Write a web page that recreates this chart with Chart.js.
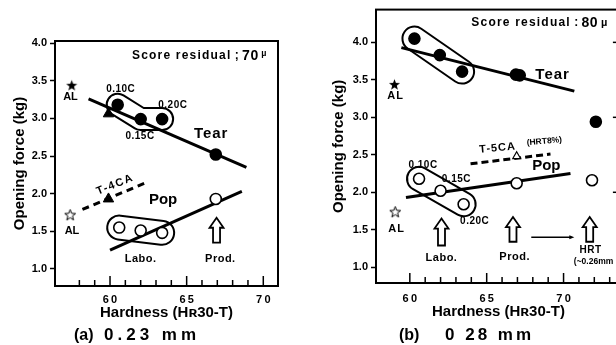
<!DOCTYPE html>
<html>
<head>
<meta charset="utf-8">
<script src="https://cdn.jsdelivr.net/npm/chart.js@4.4.0/dist/chart.umd.min.js"></script>
<style>
  html, body { margin: 0; padding: 0; background: #fff; overflow: hidden; width: 616px; height: 345px; position: relative; }
  .panel { position: absolute; top: 0; height: 345px; }
  #wrapA { left: 0; width: 300px; }
  #wrapB { left: 300px; width: 328px; }
  .cap { position: absolute; top: 325px; font: bold 17px "Liberation Sans", Arial, sans-serif; line-height: 20px; white-space: pre; color: #000; }
</style>
</head>
<body>
<div class="panel" id="wrapA"><canvas id="chartA" width="300" height="345"></canvas></div>
<div class="panel" id="wrapB"><canvas id="chartB" width="328" height="345"></canvas></div>
<div class="cap" style="left:74px; font-size:16px;">(a)</div>
<div class="cap" style="left:104px; letter-spacing:4px;">0.23 mm</div>
<div class="cap" style="left:399px; font-size:16px;">(b)</div>
<div class="cap" style="left:445px; letter-spacing:3px;">0 28 mm</div>
<script>
// ---- data ----
var yTicks = [1.0, 1.5, 2.0, 2.5, 3.0, 3.5, 4.0];
var xTicks = [60, 65, 70];

// (a) 0.23 mm
var hardTearA = [60.5, 62.0, 63.4, 66.9];
var forceTearA = [3.18, 2.99, 2.99, 2.52];
var hardPopA = [60.6, 62.0, 63.4, 66.9];
var forcePopA = [1.55, 1.51, 1.48, 1.93];
var tearLineXA = [58.6, 68.9];
var tearLineYA = [3.26, 2.35];
var popLineXA = [60.0, 68.6];
var popLineYA = [1.25, 2.03];
var t4caLineX = [58.2, 62.5];
var t4caLineY = [1.79, 2.16];
var t4caX = [59.9, 59.9];
var t4caY = [1.93, 3.06];
var alXA = [57.5, 57.4];
var alYA = [3.44, 1.72];

// (b) 0.28 mm
var hardTearB = [60.3, 61.95, 63.4, 66.9, 67.15, 72.1];
var forceTearB = [4.05, 3.83, 3.61, 3.57, 3.56, 2.94];
var hardPopB = [60.6, 62.0, 63.5, 66.95, 71.85];
var forcePopB = [2.18, 2.02, 1.84, 2.12, 2.16];
var tearLineXB = [59.45, 70.7];
var tearLineYB = [3.93, 3.35];
var popLineXB = [59.75, 70.45];
var popLineYB = [1.93, 2.25];
var t5caLineX = [63.95, 69.15];
var t5caLineY = [2.38, 2.51];
var t5caX = [66.95];
var t5caY = [2.48];
var alXB = [59.0, 59.05];
var alYB = [3.44, 1.74];

var FONT = '"Liberation Sans", Arial, sans-serif';
Chart.defaults.font.family = FONT;
Chart.defaults.font.weight = 'bold';
Chart.defaults.color = '#000';

function pts(xs, ys) {
  return xs.map(function(x, i) { return { x: x, y: ys[i] }; });
}

function starImg(filled) {
  var c = document.createElement('canvas');
  c.width = 13; c.height = 13;
  var g = c.getContext('2d');
  g.beginPath();
  for (var i = 0; i < 10; i++) {
    var r = i % 2 ? 2.4 : 5.8;
    var a = -Math.PI / 2 + i * Math.PI / 5;
    g.lineTo(6.5 + r * Math.cos(a), 7 + r * Math.sin(a));
  }
  g.closePath();
  if (filled) { g.fillStyle = '#000'; g.fill(); }
  else { g.strokeStyle = '#000'; g.lineWidth = 1; g.stroke(); }
  return c;
}
var starFull = starImg(true), starOpen = starImg(false);

function lineSet(xs, ys, dash) {
  return { data: pts(xs, ys), showLine: true, pointRadius: 0, borderColor: '#000',
           borderWidth: 3, borderDash: dash || [], order: 2 };
}
function dotSet(xs, ys, filled) {
  return { data: pts(xs, ys), pointRadius: 5.5, pointBorderWidth: 1.6,
           pointBackgroundColor: filled ? '#000' : '#fff', pointBorderColor: '#000', order: 0 };
}

// frame, inward x ticks, pills, arrows and labels
var decor = {
  id: 'decor',
  beforeDatasetsDraw: function(chart) {
    var o = chart.options.plugins.decor, ctx = chart.ctx;
    var xs = chart.scales.x, ys = chart.scales.y;
    ctx.save();
    ctx.lineJoin = 'round'; ctx.lineCap = 'round';
    (o.pills || []).forEach(function(p) {
      ctx.beginPath();
      p.path.forEach(function(q, i) {
        var X = xs.getPixelForValue(q[0]), Y = ys.getPixelForValue(q[1]);
        if (i) ctx.lineTo(X, Y); else ctx.moveTo(X, Y);
      });
      ctx.strokeStyle = '#000'; ctx.lineWidth = 2 * p.r + 4; ctx.stroke();
      ctx.strokeStyle = '#fff'; ctx.lineWidth = 2 * p.r; ctx.stroke();
    });
    ctx.restore();
  },
  afterDatasetsDraw: function(chart) {
    var o = chart.options.plugins.decor, ctx = chart.ctx;
    var xs = chart.scales.x, ys = chart.scales.y;
    ctx.save();
    ctx.strokeStyle = '#000'; ctx.fillStyle = '#000';
    (o.arrows || []).forEach(function(a) {
      var x = xs.getPixelForValue(a[0]), yt = ys.getPixelForValue(a[1]), yb = ys.getPixelForValue(a[2]);
      ctx.beginPath();
      ctx.moveTo(x, yt);
      ctx.lineTo(x + 7, yt + 10); ctx.lineTo(x + 3.5, yt + 10); ctx.lineTo(x + 3.5, yb);
      ctx.lineTo(x - 3.5, yb); ctx.lineTo(x - 3.5, yt + 10); ctx.lineTo(x - 7, yt + 10);
      ctx.closePath();
      ctx.fillStyle = '#fff'; ctx.fill();
      ctx.lineWidth = 1.8; ctx.lineJoin = 'miter'; ctx.stroke();
    });
    ctx.fillStyle = '#000';
    (o.hArrows || []).forEach(function(a) {
      var x1 = xs.getPixelForValue(a[0]), x2 = xs.getPixelForValue(a[1]), y = ys.getPixelForValue(a[2]);
      ctx.lineWidth = 1.3;
      ctx.beginPath(); ctx.moveTo(x1, y); ctx.lineTo(x2 - 3, y); ctx.stroke();
      ctx.beginPath(); ctx.moveTo(x2, y); ctx.lineTo(x2 - 5, y - 2); ctx.lineTo(x2 - 5, y + 2); ctx.closePath(); ctx.fill();
    });
    ctx.textBaseline = 'middle';
    (o.labels || []).forEach(function(l) {
      var x = xs.getPixelForValue(l.x), y = ys.getPixelForValue(l.y);
      ctx.save();
      ctx.translate(x, y);
      if (l.rot) ctx.rotate(l.rot * Math.PI / 180);
      ctx.font = 'bold ' + l.s + 'px ' + FONT;
      ctx.letterSpacing = (l.sp || 0) + 'px';
      ctx.textAlign = 'center';
      ctx.fillText(l.t, 0, 0);
      ctx.restore();
    });
    (o.runs || []).forEach(function(r) {
      var x = xs.getPixelForValue(r.x), y = ys.getPixelForValue(r.y);
      ctx.textAlign = 'left';
      r.parts.forEach(function(p) {
        ctx.font = 'bold ' + p[1] + 'px ' + FONT;
        ctx.letterSpacing = (p[2] || 0) + 'px';
        ctx.fillText(p[0], x, y + (p[3] || 0));
        x += ctx.measureText(p[0]).width;
      });
    });
    ctx.letterSpacing = '0px';
    ctx.restore();
  },
  afterDraw: function(chart) {
    var o = chart.options.plugins.decor, ctx = chart.ctx, a = chart.chartArea;
    var xs = chart.scales.x, ys = chart.scales.y;
    ctx.save();
    ctx.strokeStyle = '#000';
    ctx.lineWidth = 2;
    ctx.strokeRect(a.left, a.top, a.right - a.left, a.bottom - a.top);
    ctx.lineWidth = 1.5;
    for (var v = o.tickFrom; v <= xs.max; v++) {
      var x = xs.getPixelForValue(v), len = v % 5 === 0 ? 10 : 6;
      ctx.beginPath(); ctx.moveTo(x, a.bottom); ctx.lineTo(x, a.bottom - len); ctx.stroke();
    }
    (o.rightTicks || []).forEach(function(t) {
      var y = ys.getPixelForValue(t);
      ctx.beginPath(); ctx.moveTo(a.right, y); ctx.lineTo(a.right - 8, y); ctx.stroke();
    });
    ctx.restore();
  }
};

function makeOptions(xr, yr, pad, yWidth, xLabelPad, xTitlePad, decorOpts) {
  return {
    responsive: false,
    animation: false,
    layout: { padding: pad },
    plugins: { legend: { display: false }, tooltip: { enabled: false }, decor: decorOpts },
    scales: {
      x: {
        type: 'linear', min: xr[0], max: xr[1],
        afterFit: function(s) { s.height = 40; },
        afterBuildTicks: function(s) { s.ticks = xTicks.map(function(v) { return { value: v }; }); },
        grid: { display: false, drawTicks: false },
        border: { display: false },
        ticks: { padding: xLabelPad, font: { size: 11, weight: 'bold' },
                 callback: function(v) { return String(v).split('').join('\u2009'); } },
        title: { display: true, text: 'Hardness (H\u028030-T)', font: { size: 15, weight: 'bold' },
                 padding: { top: 0, bottom: xTitlePad } }
      },
      y: {
        type: 'linear', min: yr[0], max: yr[1],
        afterFit: function(s) { s.width = yWidth; },
        afterBuildTicks: function(s) { s.ticks = yTicks.map(function(v) { return { value: v }; }); },
        grid: { display: true, drawOnChartArea: false, drawTicks: true, tickLength: 5,
                tickColor: '#000', tickWidth: 1.5 },
        border: { display: false },
        ticks: { padding: 3, font: { size: 11, weight: 'bold' },
                 callback: function(v) { return v.toFixed(1); } },
        title: { display: true, text: 'Opening force (kg)', font: { size: 15, weight: 'bold' },
                 padding: { top: 0, bottom: 0 } }
      }
    }
  };
}

new Chart(document.getElementById('chartA'), {
  type: 'scatter',
  plugins: [decor],
  data: {
    datasets: [
      dotSet(hardTearA, forceTearA, true),
      dotSet(hardPopA, forcePopA, false),
      { data: pts(t4caX, t4caY), pointStyle: 'triangle', pointRadius: 6, pointBackgroundColor: '#000',
        pointBorderColor: '#000', order: 0 },
      { data: pts(alXA.slice(0, 1), alYA.slice(0, 1)), pointStyle: starFull, order: 0 },
      { data: pts(alXA.slice(1), alYA.slice(1)), pointStyle: starOpen, order: 0 },
      lineSet(tearLineXA, tearLineYA),
      lineSet(popLineXA, popLineYA),
      lineSet(t4caLineX, t4caLineY, [7, 5])
    ]
  },
  options: makeOptions([56.41, 70.96], [0.774, 4.027],
    { left: 11, right: 22, top: 41, bottom: 19 }, 44, 7, 4, {
      tickFrom: 58,
      pills: [
        { path: [[60.5, 3.18], [62.0, 2.99], [63.4, 2.99]], r: 10 },
        { path: [[60.6, 1.55], [63.4, 1.48]], r: 11 }
      ],
      arrows: [[66.95, 1.68, 1.35]],
      labels: [
        { t: 'AL', x: 57.42, y: 3.29, s: 11 },
        { t: '0.10C', x: 60.7, y: 3.38, s: 10, sp: 0.5 },
        { t: '0.20C', x: 64.1, y: 3.17, s: 10, sp: 0.5 },
        { t: '0.15C', x: 61.96, y: 2.76, s: 10, sp: 0.5 },
        { t: 'Tear', x: 66.6, y: 2.8, s: 15, sp: 1 },
        { t: 'T-4CA', x: 60.33, y: 2.12, s: 11, sp: 1.5, rot: -22 },
        { t: 'Pop', x: 63.46, y: 1.92, s: 15 },
        { t: 'AL', x: 57.52, y: 1.5, s: 11 },
        { t: 'Labo.', x: 62.0, y: 1.13, s: 11, sp: 0.5 },
        { t: 'Prod.', x: 67.2, y: 1.13, s: 11, sp: 0.5 }
      ],
      runs: [
        { x: 61.43, y: 3.83, parts: [['Score residual', 12, 1.2], [' ; ', 12], ['70', 14, 0.5], [' \u00b5', 9, 0, -2]] }
      ]
    })
});

new Chart(document.getElementById('chartB'), {
  type: 'scatter',
  plugins: [decor],
  data: {
    datasets: [
      dotSet(hardTearB, forceTearB, true),
      dotSet(hardPopB, forcePopB, false),
      { data: pts(t5caX, t5caY), pointStyle: 'triangle', pointRadius: 4.5, pointBorderWidth: 1.2,
        pointBackgroundColor: '#fff', pointBorderColor: '#000', order: 0 },
      { data: pts(alXB.slice(0, 1), alYB.slice(0, 1)), pointStyle: starFull, order: 0 },
      { data: pts(alXB.slice(1), alYB.slice(1)), pointStyle: starOpen, order: 0 },
      lineSet(tearLineXB, tearLineYB),
      lineSet(popLineXB, popLineYB),
      lineSet(t5caLineX, t5caLineY, [7, 4])
    ]
  },
  options: makeOptions([57.8, 73.73], [0.79, 4.437],
    { left: 30, right: 0, top: 7, bottom: 22 }, 46, 9, 2, {
      tickFrom: 60,
      rightTicks: [2, 3, 4],
      pills: [
        { path: [[60.3, 4.05], [63.4, 3.61]], r: 11 },
        { path: [[60.6, 2.18], [63.5, 1.84]], r: 11 }
      ],
      arrows: [[62.06, 1.65, 1.29], [66.71, 1.67, 1.34], [71.7, 1.67, 1.34]],
      hArrows: [[67.9, 70.7, 1.4]],
      labels: [
        { t: 'AL', x: 59.07, y: 3.28, s: 11, sp: 1 },
        { t: 'Tear', x: 69.29, y: 3.57, s: 15, sp: 1 },
        { t: 'T-5CA', x: 65.71, y: 2.59, s: 11, sp: 1, rot: -5 },
        { t: '(HRT8%)', x: 68.75, y: 2.68, s: 8.5, rot: -5 },
        { t: 'Pop', x: 68.88, y: 2.35, s: 15 },
        { t: '0.10C', x: 60.86, y: 2.36, s: 10, sp: 0.5 },
        { t: '0.15C', x: 63.03, y: 2.17, s: 10, sp: 0.5 },
        { t: '0.20C', x: 64.22, y: 1.62, s: 10, sp: 0.5 },
        { t: 'AL', x: 59.14, y: 1.51, s: 11, sp: 1 },
        { t: 'Labo.', x: 62.06, y: 1.12, s: 11, sp: 0.5 },
        { t: 'Prod.', x: 66.82, y: 1.14, s: 11, sp: 0.5 },
        { t: 'HRT', x: 71.75, y: 1.23, s: 10, sp: 0.5 },
        { t: '(~0.26mm', x: 71.95, y: 1.07, s: 8.5 }
      ],
      runs: [
        { x: 64.0, y: 4.26, parts: [['Score residual', 12, 1.2], [' : ', 12], ['80', 14, 0.5], [' \u00b5', 11]] }
      ]
    })
});
</script>
</body>
</html>
